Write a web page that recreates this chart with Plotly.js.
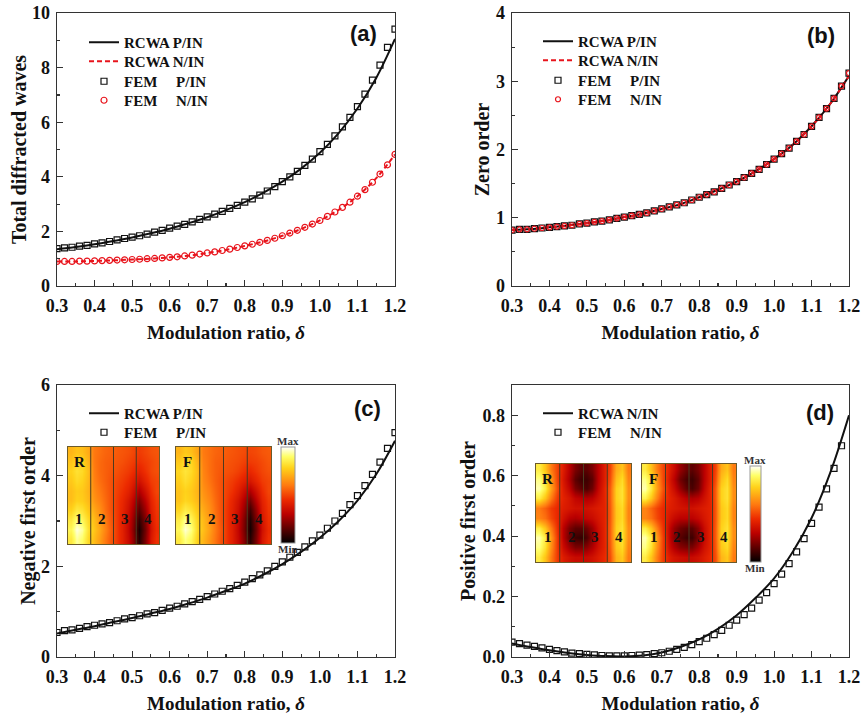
<!DOCTYPE html>
<html><head><meta charset="utf-8">
<script src="https://cdn.plot.ly/plotly-3.0.1.min.js"></script>
<style>html,body{margin:0;padding:0;background:#fff}#c{width:862px;height:718px}</style>
</head><body><div id="c"></div>
<script>
// ---------- data ----------
const xFem = [0.30,0.32,0.34,0.36,0.38,0.40,0.42,0.44,0.46,0.48,0.50,0.52,0.54,0.56,0.58,0.60,0.62,0.64,0.66,0.68,0.70,0.72,0.74,0.76,0.78,0.80,0.82,0.84,0.86,0.88,0.90,0.92,0.94,0.96,0.98,1.00,1.02,1.04,1.06,1.08,1.10,1.12,1.14,1.16,1.18,1.20];
const xRcwa = [0.30,0.35,0.40,0.45,0.50,0.55,0.60,0.65,0.70,0.75,0.80,0.85,0.90,0.95,1.00,1.05,1.10,1.15,1.20];

// (a) total diffracted waves
const aRcwaP = [1.35,1.43,1.53,1.65,1.78,1.93,2.10,2.30,2.52,2.78,3.07,3.42,3.82,4.30,4.88,5.60,6.50,7.62,9.05];
const aRcwaN = [0.90,0.90,0.92,0.94,0.97,1.00,1.05,1.11,1.21,1.32,1.47,1.63,1.84,2.09,2.40,2.79,3.29,3.95,4.82];
const aFemP = [1.37,1.40,1.42,1.46,1.49,1.54,1.58,1.63,1.69,1.74,1.79,1.84,1.90,1.97,2.04,2.12,2.19,2.26,2.35,2.44,2.53,2.63,2.73,2.84,2.95,3.07,3.19,3.33,3.48,3.64,3.82,4.00,4.20,4.42,4.65,4.92,5.19,5.50,5.83,6.18,6.57,7.03,7.54,8.09,8.74,9.41];
const aFemN = [0.90,0.90,0.90,0.91,0.91,0.92,0.93,0.94,0.95,0.96,0.97,0.98,1.00,1.01,1.03,1.05,1.07,1.10,1.13,1.17,1.21,1.25,1.30,1.35,1.41,1.47,1.53,1.60,1.67,1.75,1.84,1.94,2.04,2.15,2.27,2.40,2.55,2.71,2.88,3.07,3.29,3.53,3.80,4.10,4.44,4.82];

// (b) zero order
const bRcwaP = [0.82,0.835,0.86,0.885,0.92,0.96,1.01,1.06,1.13,1.20,1.30,1.41,1.53,1.68,1.86,2.07,2.34,2.67,3.08];
const bRcwaN = [0.82,0.835,0.86,0.885,0.92,0.96,1.01,1.06,1.13,1.20,1.30,1.41,1.53,1.68,1.86,2.07,2.34,2.67,3.08];
const bFemP = [0.82,0.83,0.83,0.84,0.85,0.86,0.87,0.88,0.89,0.91,0.92,0.94,0.95,0.97,0.99,1.01,1.03,1.05,1.07,1.10,1.13,1.16,1.19,1.22,1.26,1.30,1.34,1.38,1.43,1.48,1.53,1.59,1.65,1.71,1.78,1.86,1.94,2.02,2.12,2.22,2.34,2.47,2.60,2.75,2.93,3.12];
const bFemN = [0.82,0.83,0.83,0.84,0.85,0.86,0.87,0.88,0.89,0.91,0.92,0.94,0.95,0.97,0.99,1.01,1.03,1.05,1.07,1.10,1.13,1.16,1.19,1.22,1.26,1.30,1.34,1.38,1.43,1.48,1.53,1.59,1.65,1.71,1.78,1.86,1.94,2.02,2.12,2.22,2.34,2.47,2.60,2.75,2.93,3.12];

// (c) negative first order
const cRcwaP = [0.52,0.60,0.68,0.77,0.86,0.96,1.06,1.18,1.31,1.46,1.62,1.82,2.05,2.32,2.63,3.00,3.45,4.03,4.77];
const cFemP = [0.54,0.58,0.60,0.63,0.67,0.70,0.73,0.76,0.80,0.84,0.87,0.91,0.95,0.98,1.03,1.08,1.12,1.17,1.22,1.27,1.33,1.39,1.45,1.51,1.58,1.65,1.73,1.81,1.90,2.00,2.10,2.20,2.31,2.43,2.56,2.69,2.84,3.00,3.17,3.36,3.56,3.78,4.03,4.30,4.60,4.95];

// (d) positive first order
const dRcwaN = [0.045,0.033,0.022,0.013,0.007,0.003,0.002,0.005,0.015,0.033,0.058,0.093,0.138,0.195,0.260,0.348,0.460,0.610,0.800];
const dFemN = [0.049,0.044,0.039,0.035,0.030,0.025,0.021,0.017,0.013,0.011,0.009,0.007,0.005,0.004,0.004,0.004,0.005,0.006,0.008,0.011,0.014,0.019,0.025,0.032,0.041,0.051,0.062,0.074,0.088,0.105,0.122,0.140,0.162,0.188,0.213,0.243,0.274,0.309,0.348,0.392,0.442,0.496,0.556,0.624,0.699];

// inset field maps (relative intensity, rows top->bottom, 4 columns per strip)
const cMapR = [
 [0.72,0.75,0.74,0.70,0.60,0.58,0.56,0.55,0.54,0.53,0.52,0.50,0.48,0.50,0.52,0.53],
 [0.75,0.80,0.78,0.72,0.60,0.57,0.55,0.54,0.53,0.52,0.50,0.48,0.46,0.48,0.50,0.52],
 [0.78,0.82,0.80,0.74,0.61,0.57,0.55,0.53,0.52,0.50,0.48,0.45,0.42,0.46,0.50,0.52],
 [0.76,0.80,0.78,0.73,0.62,0.58,0.55,0.52,0.50,0.48,0.45,0.40,0.36,0.42,0.48,0.50],
 [0.74,0.77,0.76,0.72,0.64,0.60,0.56,0.52,0.49,0.46,0.42,0.35,0.28,0.36,0.45,0.50],
 [0.74,0.78,0.77,0.73,0.66,0.62,0.57,0.52,0.48,0.44,0.38,0.30,0.20,0.30,0.42,0.48],
 [0.78,0.84,0.82,0.76,0.70,0.65,0.58,0.52,0.48,0.43,0.36,0.26,0.14,0.25,0.40,0.47],
 [0.84,0.92,0.88,0.80,0.74,0.68,0.60,0.53,0.48,0.42,0.34,0.22,0.08,0.20,0.38,0.46],
 [0.88,0.98,0.94,0.82,0.76,0.70,0.62,0.54,0.48,0.42,0.33,0.20,0.04,0.18,0.36,0.45],
 [0.84,0.94,0.90,0.80,0.74,0.68,0.60,0.53,0.48,0.42,0.34,0.22,0.06,0.20,0.38,0.46]];
const cMapF = [
 [0.72,0.76,0.74,0.69,0.60,0.58,0.56,0.55,0.54,0.53,0.52,0.51,0.50,0.51,0.53,0.54],
 [0.76,0.81,0.79,0.72,0.61,0.58,0.55,0.54,0.53,0.52,0.51,0.49,0.48,0.49,0.51,0.53],
 [0.79,0.83,0.80,0.74,0.62,0.58,0.55,0.53,0.52,0.51,0.49,0.46,0.44,0.47,0.50,0.52],
 [0.77,0.81,0.78,0.73,0.63,0.59,0.55,0.52,0.50,0.48,0.45,0.41,0.38,0.43,0.48,0.50],
 [0.75,0.78,0.76,0.72,0.65,0.61,0.56,0.52,0.49,0.46,0.41,0.34,0.28,0.36,0.45,0.50],
 [0.75,0.79,0.77,0.73,0.67,0.63,0.57,0.52,0.48,0.43,0.37,0.28,0.18,0.30,0.42,0.48],
 [0.79,0.85,0.82,0.76,0.70,0.65,0.58,0.52,0.47,0.42,0.35,0.24,0.10,0.24,0.40,0.47],
 [0.85,0.93,0.88,0.79,0.73,0.67,0.59,0.52,0.47,0.41,0.33,0.20,0.05,0.20,0.38,0.46],
 [0.88,0.97,0.92,0.80,0.74,0.68,0.60,0.53,0.47,0.41,0.32,0.19,0.03,0.18,0.36,0.45],
 [0.84,0.92,0.88,0.78,0.72,0.66,0.59,0.52,0.47,0.41,0.33,0.21,0.06,0.20,0.38,0.46]];
const dMapR = [
 [0.85,0.75,0.60,0.50,0.40,0.30,0.20,0.15,0.15,0.20,0.30,0.40,0.50,0.70,0.75,0.60],
 [0.92,0.82,0.65,0.50,0.38,0.28,0.15,0.10,0.10,0.15,0.30,0.40,0.52,0.74,0.80,0.62],
 [0.95,0.85,0.68,0.52,0.40,0.32,0.20,0.15,0.12,0.18,0.32,0.42,0.55,0.78,0.82,0.64],
 [0.85,0.75,0.60,0.48,0.42,0.38,0.32,0.30,0.28,0.30,0.36,0.42,0.55,0.78,0.82,0.64],
 [0.60,0.55,0.48,0.44,0.40,0.38,0.36,0.36,0.36,0.38,0.40,0.42,0.54,0.76,0.80,0.62],
 [0.62,0.58,0.50,0.44,0.36,0.30,0.28,0.30,0.32,0.34,0.38,0.42,0.54,0.76,0.80,0.62],
 [0.85,0.75,0.60,0.46,0.30,0.20,0.15,0.15,0.18,0.25,0.35,0.42,0.55,0.78,0.82,0.64],
 [0.95,0.85,0.66,0.48,0.30,0.18,0.10,0.08,0.12,0.22,0.34,0.42,0.55,0.78,0.82,0.64],
 [0.92,0.82,0.64,0.48,0.34,0.26,0.20,0.20,0.22,0.28,0.36,0.42,0.54,0.76,0.80,0.62],
 [0.85,0.75,0.60,0.48,0.40,0.36,0.34,0.34,0.34,0.36,0.40,0.44,0.52,0.72,0.76,0.60]];
const dMapF = [
 [0.84,0.74,0.60,0.50,0.42,0.34,0.24,0.18,0.15,0.20,0.30,0.40,0.50,0.70,0.75,0.60],
 [0.92,0.82,0.65,0.50,0.40,0.30,0.18,0.12,0.10,0.16,0.30,0.40,0.52,0.74,0.80,0.62],
 [0.95,0.84,0.67,0.52,0.42,0.34,0.24,0.16,0.12,0.18,0.32,0.42,0.55,0.78,0.82,0.64],
 [0.86,0.76,0.61,0.48,0.43,0.39,0.34,0.30,0.28,0.30,0.36,0.42,0.55,0.78,0.82,0.64],
 [0.62,0.56,0.49,0.44,0.41,0.39,0.37,0.36,0.36,0.38,0.40,0.42,0.54,0.76,0.80,0.62],
 [0.62,0.58,0.50,0.44,0.38,0.33,0.30,0.30,0.30,0.33,0.38,0.42,0.54,0.76,0.80,0.62],
 [0.85,0.75,0.60,0.46,0.34,0.24,0.18,0.15,0.15,0.22,0.34,0.42,0.55,0.78,0.82,0.64],
 [0.95,0.85,0.66,0.48,0.34,0.22,0.14,0.10,0.10,0.20,0.33,0.42,0.55,0.78,0.82,0.64],
 [0.92,0.82,0.64,0.48,0.36,0.28,0.22,0.20,0.20,0.27,0.36,0.42,0.54,0.76,0.80,0.62],
 [0.85,0.75,0.60,0.48,0.41,0.37,0.35,0.34,0.34,0.36,0.40,0.44,0.52,0.72,0.76,0.60]];

const legendP = ['RCWA P/IN','RCWA N/IN','FEM&nbsp;&nbsp;&nbsp;&nbsp;&nbsp;P/IN','FEM&nbsp;&nbsp;&nbsp;&nbsp;&nbsp;N/IN'];
const panelLabels = ['(a)','(b)','(c)','(d)'];
const yTitles = ['Total diffracted waves','Zero order','Negative first order','Positive first order'];
const xTitle = 'Modulation ratio, <i>δ</i>';

// ---------- helpers ----------
const W = 862, H = 718;
const px = v => v / W, py = v => 1 - v / H;
const SERIF = 'Liberation Serif, Times New Roman, serif';
const SANS = 'Liberation Sans, Arial, sans-serif';
const BLK = '#111';
const RED = '#e8141c';
const hot = [[0,'#000000'],[0.12,'#4a0000'],[0.3,'#bb0000'],[0.45,'#ec2a00'],[0.6,'#ff7a10'],[0.78,'#ffd21a'],[0.9,'#ffff66'],[1,'#ffffff']];

const lineTr = (x, y, xa, ya, name, color, dash, leg) => ({x, y, xaxis: xa, yaxis: ya, name, legend: leg, type: 'scatter', mode: 'lines', line: {color, width: 2, dash, shape: 'spline'}});
const mkTr = (x, y, xa, ya, name, color, sym, size, leg) => ({x, y, xaxis: xa, yaxis: ya, name, legend: leg, type: 'scatter', mode: 'markers', marker: {symbol: sym, size, color, line: {color, width: 1.2}}});

const DASH = '5px,3px';
const traces = [
  lineTr(xRcwa, aRcwaP, 'x', 'y', legendP[0], BLK, 'solid', 'legend'),
  lineTr(xRcwa, aRcwaN, 'x', 'y', legendP[1], RED, DASH, 'legend2'),
  mkTr(xFem, aFemP, 'x', 'y', legendP[2], BLK, 'square-open', 6, 'legend3'),
  mkTr(xFem, aFemN, 'x', 'y', legendP[3], RED, 'circle-open', 6, 'legend4'),

  lineTr(xRcwa, bRcwaP, 'x2', 'y2', legendP[0], BLK, 'solid', 'legend5'),
  lineTr(xRcwa, bRcwaN, 'x2', 'y2', legendP[1], RED, DASH, 'legend6'),
  mkTr(xFem, bFemP, 'x2', 'y2', legendP[2], BLK, 'square-open', 6, 'legend7'),
  mkTr(xFem, bFemN, 'x2', 'y2', legendP[3], RED, 'circle-open', 5, 'legend8'),

  lineTr(xRcwa, cRcwaP, 'x3', 'y3', legendP[0], BLK, 'solid', 'legend9'),
  mkTr(xFem, cFemP, 'x3', 'y3', legendP[2], BLK, 'square-open', 6, 'legend10'),

  lineTr(xRcwa, dRcwaN, 'x4', 'y4', 'RCWA N/IN', BLK, 'solid', 'legend11'),
  mkTr(xFem, dFemN, 'x4', 'y4', legendP[3], BLK, 'square-open', 6, 'legend12'),
];

const hm = (z, xa, ya, scale, cb) => ({type: 'heatmap', z, xaxis: xa, yaxis: ya, colorscale: hot, zmin: 0, zmax: 1, zsmooth: 'best', showscale: scale, colorbar: cb, hoverinfo: 'skip', showlegend: false});
const cbar = (left, top, len, th) => ({x: px(left), xanchor: 'left', xref: 'paper', y: py(top), yanchor: 'top', yref: 'paper', len, lenmode: 'pixels', thickness: th, thicknessmode: 'pixels', xpad: 0, ypad: 0, outlinewidth: 1, outlinecolor: '#999', tickvals: [], showticklabels: false, ticks: ''});
traces.push(hm(cMapR, 'x5', 'y5', true, cbar(281, 447, 96, 14)));
traces.push(hm(cMapF, 'x6', 'y6', false));
traces.push(hm(dMapR, 'x7', 'y7', true, cbar(750, 466, 96, 11)));
traces.push(hm(dMapF, 'x8', 'y8', false));

// ---------- layout ----------
const tickF = {family: SERIF, size: 18, color: BLK, weight: 'bold'};
const titleF = {family: SERIF, size: 20, color: BLK, weight: 'bold'};
const xAx = (dom, anchor) => ({domain: dom, anchor, range: [0.3, 1.2], dtick: 0.1, tick0: 0.3, tickformat: '.1f',
  ticks: 'inside', ticklen: 6, tickwidth: 1.2, tickcolor: '#333', minor: {ticks: 'inside', ticklen: 3, dtick: 0.05, tickcolor: '#333'},
  showline: true, linecolor: '#333', linewidth: 1.3, mirror: true, showgrid: false, zeroline: false, ticklabelstandoff: 3,
  tickfont: tickF, title: {text: xTitle, font: {family: SERIF, size: 19, color: BLK, weight: 'bold'}, standoff: 10}});
const yAx = (dom, anchor, range, dtick, mdt, title, fmt, standoff) => ({domain: dom, anchor, range, dtick, tickformat: fmt,
  ticks: 'inside', ticklen: 6, tickwidth: 1.2, tickcolor: '#333', minor: {ticks: 'inside', ticklen: 3, dtick: mdt, tickcolor: '#333'},
  showline: true, linecolor: '#333', linewidth: 1.3, mirror: true, showgrid: false, zeroline: false, ticklabelstandoff: 2,
  tickfont: tickF, title: {text: title, font: titleF, standoff}});
const inAx = (dom, anchor, rev) => ({domain: dom, anchor, showticklabels: false, ticks: '', showgrid: false, zeroline: false,
  showline: true, mirror: true, linecolor: '#6b5a2a', linewidth: 1, autorange: rev ? 'reversed' : true, fixedrange: true});

const dxL = [px(57), px(395)], dxR = [px(512), px(849)];
const dyT = [py(286), py(13)], dyB = [py(657), py(385)];

// one legend box per row; row centre = top + 16
const legendBox = (left, rowCentre) => ({x: px(left), xanchor: 'left', y: py(rowCentre - 16), yanchor: 'top', bgcolor: 'rgba(0,0,0,0)', borderwidth: 0,
  font: {family: SERIF, size: 15, color: BLK, weight: 'bold'}, tracegroupgap: 0, itemwidth: 30});

const layout = {
  width: W, height: H, margin: {l: 0, r: 0, t: 0, b: 0}, paper_bgcolor: '#fff', plot_bgcolor: '#fff',
  font: {family: SERIF, color: BLK}, showlegend: true,
  xaxis: xAx(dxL, 'y'), yaxis: yAx(dyT, 'x', [0, 10], 2, 1, yTitles[0], 'd', 0),
  xaxis2: xAx(dxR, 'y2'), yaxis2: yAx(dyT, 'x2', [0, 4], 1, 0.5, yTitles[1], 'd', 1),
  xaxis3: xAx(dxL, 'y3'), yaxis3: yAx(dyB, 'x3', [0, 6], 2, 1, yTitles[2], 'd', 0),
  xaxis4: xAx(dxR, 'y4'), yaxis4: yAx(dyB, 'x4', [0, 0.9], 0.2, 0.1, yTitles[3], '.1f', 1),
  xaxis5: inAx([px(68), px(159)], 'y5'), yaxis5: inAx([py(544), py(447)], 'x5', true),
  xaxis6: inAx([px(176), px(271)], 'y6'), yaxis6: inAx([py(544), py(447)], 'x6', true),
  xaxis7: inAx([px(536), px(631)], 'y7'), yaxis7: inAx([py(562), py(464)], 'x7', true),
  xaxis8: inAx([px(642), px(736)], 'y8'), yaxis8: inAx([py(562), py(464)], 'x8', true),
  legend: legendBox(84, 42), legend2: legendBox(84, 61), legend3: legendBox(84, 81), legend4: legendBox(84, 100),
  legend5: legendBox(538, 41), legend6: legendBox(538, 60), legend7: legendBox(538, 80), legend8: legendBox(538, 99),
  legend9: legendBox(84, 413), legend10: legendBox(84, 432),
  legend11: legendBox(538, 413), legend12: legendBox(538, 432),
  shapes: [], annotations: []
};

// strip dividers in the insets
['5','6','7','8'].forEach(k => {
  [0.25, 0.5, 0.75].forEach(f => layout.shapes.push({type: 'line', xref: 'x' + k + ' domain', yref: 'y' + k + ' domain', x0: f, x1: f, y0: 0, y1: 1, line: {color: '#4a3a20', width: 1}}));
});

// panel labels
[[363, 34], [821, 35], [367, 408], [820, 412]].forEach((p, i) => layout.annotations.push({
  text: panelLabels[i], xref: 'paper', yref: 'paper', x: px(p[0]), y: py(p[1]), xanchor: 'center', yanchor: 'middle', showarrow: false,
  font: {family: SANS, size: 22, color: BLK, weight: 'bold'}}));

// inset labels
const insetText = (k, t, fx, fy, size) => layout.annotations.push({text: t, xref: 'x' + k + ' domain', yref: 'y' + k + ' domain', x: fx, y: fy, xanchor: 'center', yanchor: 'middle', showarrow: false, font: {family: SERIF, size, color: BLK, weight: 'bold'}});
[['5','R'],['6','F'],['7','R'],['8','F']].forEach(([k, t]) => {
  insetText(k, t, 0.125, 0.85, 15);
  ['1','2','3','4'].forEach((n, j) => insetText(k, n, 0.125 + 0.25 * j, 0.26, 15));
});
// colour-bar labels
[[288, 441, 'Max'], [288, 549, 'Min'], [755, 460, 'Max'], [755, 568, 'Min']].forEach(p => layout.annotations.push({
  text: p[2], xref: 'paper', yref: 'paper', x: px(p[0]), y: py(p[1]), xanchor: 'center', yanchor: 'middle', showarrow: false,
  font: {family: SERIF, size: 11, color: '#333', weight: 'bold'}}));

Plotly.newPlot('c', traces, layout, {staticPlot: true});
</script></body></html>
